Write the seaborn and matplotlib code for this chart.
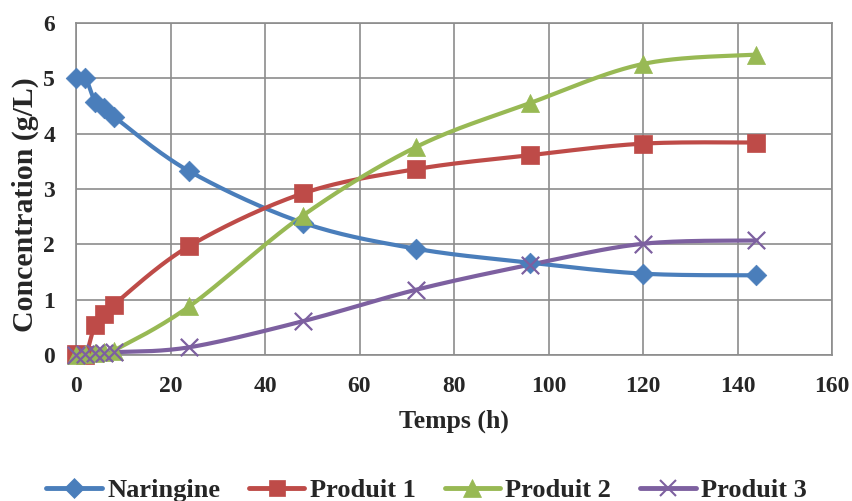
import numpy as np
import pandas as pd
import seaborn as sns
import matplotlib.pyplot as plt
from matplotlib.lines import Line2D

temps = [0, 2, 4, 6, 8, 24, 48, 72, 96, 120, 144]
naringine = [5.0, 5.0, 4.58, 4.46, 4.31, 3.32, 2.39, 1.92, 1.67, 1.47, 1.44]
produit1 = [0.02, 0.0, 0.54, 0.74, 0.91, 1.97, 2.92, 3.36, 3.61, 3.82, 3.84]
produit2 = [0.0, 0.02, 0.03, 0.05, 0.08, 0.88, 2.52, 3.76, 4.55, 5.26, 5.43]
produit3 = [0.0, 0.02, 0.03, 0.04, 0.05, 0.14, 0.61, 1.18, 1.63, 2.01, 2.07]

series = {
    "Naringine": (naringine, "#4A7EBB", "D", 10.5),
    "Produit 1": (produit1, "#BE4B48", "s", 12.5),
    "Produit 2": (produit2, "#98B954", "^", 13),
    "Produit 3": (produit3, "#7D60A0", "x", 12.5),
}


def smooth(x, y, n=30, sx=756 / 160, sy=332 / 6):
    # excel-like smoothed line: catmull-rom bezier in screen-ish units
    p = np.column_stack([np.asarray(x, float) * sx, np.asarray(y, float) * sy])
    p = np.vstack([p[0], p, p[-1]])
    out = []
    t = np.linspace(0, 1, n)[:, None]
    for i in range(1, len(p) - 2):
        p0, p1, p2, p3 = p[i - 1], p[i], p[i + 1], p[i + 2]
        c1 = p1 + (p2 - p0) / 6
        c2 = p2 - (p3 - p1) / 6
        seg = ((1 - t) ** 3) * p1 + 3 * ((1 - t) ** 2) * t * c1 + 3 * (1 - t) * t ** 2 * c2 + t ** 3 * p2
        out.append(seg if i == 1 else seg[1:])
    out = np.vstack(out)
    return out[:, 0] / sx, out[:, 1] / sy


sns.set_style("white")
plt.rcParams["font.family"] = ["Liberation Serif", "DejaVu Serif"]
plt.rcParams["font.weight"] = "bold"

fig = plt.figure(figsize=(8.53, 5.01), dpi=100)
ax = fig.add_axes([76 / 853, 1 - 355 / 501, 756 / 853, 332 / 501])

handles = []
for name, (vals, color, marker, ms) in series.items():
    sx_, sy_ = smooth(temps, vals)
    curve = pd.DataFrame({"t": sx_, "c": sy_})
    sns.lineplot(data=curve, x="t", y="c", sort=False, estimator=None, color=color,
                 linewidth=3.0, ax=ax, zorder=3)
    pts = pd.DataFrame({"t": temps, "c": vals})
    if marker == "x":
        ax.scatter(pts["t"], pts["c"], marker="x", s=ms ** 2, color=color, linewidths=1.6,
                   zorder=4, clip_on=False)
    else:
        sns.scatterplot(data=pts, x="t", y="c", marker=marker, s=ms ** 2, color=color,
                        edgecolor=color, linewidth=0.5, ax=ax, zorder=4, clip_on=False)
    handles.append(Line2D([], [], color=color, linewidth=3.5, marker=marker, markersize=ms * 0.95,
                          markeredgewidth=1.5 if marker == "x" else 0.5, markeredgecolor=color))

ax.set_xlim(0, 160)
ax.set_ylim(0, 6)
ax.set_xticks(range(0, 161, 20))
ax.set_yticks(range(0, 7))
ax.grid(True, color="#8c8c8c", linewidth=1.2)
ax.set_axisbelow(True)
for s in ax.spines.values():
    s.set_color("#8c8c8c")
    s.set_linewidth(1.2)
ax.tick_params(axis="x", labelsize=17, length=0, pad=15)
ax.tick_params(axis="y", labelsize=17, length=0, pad=15)
for lab in ax.get_xticklabels() + ax.get_yticklabels():
    lab.set_fontweight("bold")
ax.set_xlabel("Temps (h)", fontsize=18.5, fontweight="bold")
ax.set_ylabel("Concentration (g/L)", fontsize=21.5, fontweight="bold")
ax.xaxis.set_label_coords(0.5, (355 - 421) / 332)
ax.yaxis.set_label_coords((25 - 76) / 756, (355 - 205) / 332)
ax.xaxis.label.set_va("center")
ax.yaxis.label.set_va("center")

fig.legend(handles, list(series.keys()), loc="center", bbox_to_anchor=(0.5, 1 - 490 / 501),
           ncol=4, frameon=False, prop={"size": 19, "weight": "bold"},
           handlelength=2.1, columnspacing=1.1, handletextpad=0.2, borderpad=0)

fig.savefig("out.png", dpi=100)
